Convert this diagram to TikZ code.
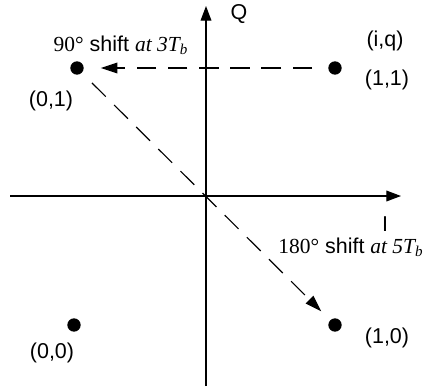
\documentclass[tikz,border=0pt]{standalone}
\usepackage{fontspec}
\setmainfont{Liberation Sans}
\newfontfamily\serif{Liberation Serif}
\usetikzlibrary{arrows.meta}
\tikzset{
  axis/.style={-{Triangle[length=7.5pt,width=5.5pt]},line width=0.6pt},
  dot/.style={circle,fill=black,inner sep=0pt,minimum size=0.24cm},
  darr/.style={-{Triangle[length=8.5pt,width=5.5pt]},dash pattern=on 10pt off 6pt,line width=0.6pt},
  lbl/.style={font=\fontsize{11}{13}\selectfont,inner sep=1pt}
}
\newcommand{\shiftlbl}[2]{{\serif #1\textdegree} shift {\serif\itshape at #2T\textsubscript{b}}}

\begin{document}
\begin{tikzpicture}[x=0.018cm,y=-0.018cm]
    \useasboundingbox (0,0) rectangle (427,390);
    % Axes
    \coordinate (ibeg) at (10,196);
    \coordinate (iend) at (401,196);
    \coordinate (qbeg) at (206,386);
    \coordinate (qend) at (206,6);
    \draw[axis] (ibeg) -- (iend);
    \draw[axis] (qbeg) -- (qend);
    \node[lbl] (ilab) at (385,224) {I};
    \node[lbl] (qlab) at (239,14) {Q};

    % Constellation points
    \node[dot] (p01) at (77,68) {};
    \node[dot] (p11) at (335,68) {};
    \node[dot] (p00) at (74,325) {};
    \node[dot] (p10) at (335,325) {};

    % Point labels
    \node[lbl] (l01) at (51,101) {(0,1)};
    \node[lbl] (l11) at (387,80) {(1,1)};
    \node[lbl] (liq) at (385,41) {(i,q)};
    \node[lbl] (l00) at (52,353) {(0,0)};
    \node[lbl] (l10) at (387,338) {(1,0)};

    % Phase shifts
    \draw[darr,shorten <=0.41cm,shorten >=0.43cm] (p11.center) -- (p01.center);
    \draw[darr,shorten <=0.38cm,shorten >=0.35cm] (p01.center) -- (p10.center);
    \node[lbl] (sh90) at (121,45) {\shiftlbl{90}{3}};
    \node[lbl] (sh180) at (351,247) {\shiftlbl{180}{5}};
  \end{tikzpicture}
\end{document}
